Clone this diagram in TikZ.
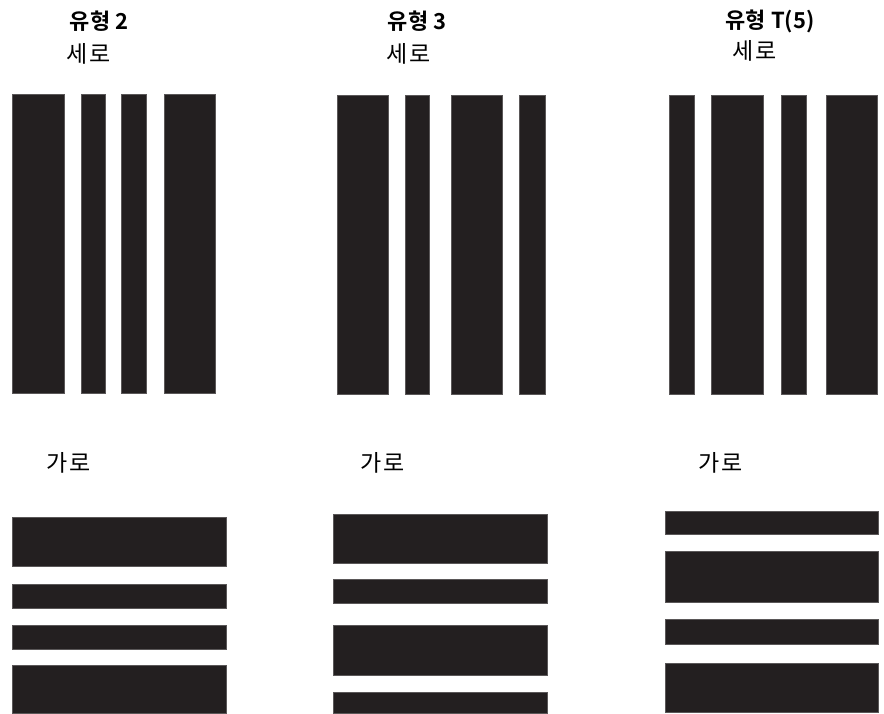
\documentclass[tikz,border=0pt]{standalone}
\usepackage{fontspec}
\setmainfont{Noto Sans CJK KR}[BoldFont={Noto Sans CJK KR Bold}]
\newfontfamily\krwide{Noto Sans CJK KR}[LetterSpace=8]
\usepackage{tikz}

\definecolor{barcol}{RGB}{35,31,32}

\begin{document}
\begin{tikzpicture}[x=1pt, y=-1pt,
  bar/.style={fill=barcol, draw=barcol!75, line width=0.6pt},
  title/.style={font=\bfseries\fontsize{22}{26}\selectfont, inner sep=0pt},
  dirtext/.style={font=\krwide\fontsize{23}{27}\selectfont, inner sep=0pt}]
  \useasboundingbox (0,0) rectangle (884,713);
  % titles
  \node[title] (t2) at (99,21) {유형 2};
  \node[title] (t3) at (417,21) {유형 3};
  \node[title] (t5) at (770,21) {유형 T(5)};
  \node[dirtext] (v2) at (89,54) {세로};
  \node[dirtext] (v3) at (409,54) {세로};
  \node[dirtext] (v5) at (755,51) {세로};
  \node[dirtext] (h2) at (69,463) {가로};
  \node[dirtext] (h3) at (383,463) {가로};
  \node[dirtext] (h5) at (721,463) {가로};
  % vertical bars
  \foreach \a/\b in {12/64, 81/105, 121/146, 164/215}
    \draw[bar] (\a,94) rectangle (\b,393);
  \foreach \a/\b in {337/388, 405/429, 451/502, 519/545}
    \draw[bar] (\a,95) rectangle (\b,394);
  \foreach \a/\b in {669/694, 711/763, 781/806, 826/877}
    \draw[bar] (\a,95) rectangle (\b,394);
  % horizontal bars
  \foreach \a/\b in {517/566, 584/608, 625/649, 665/713}
    \draw[bar] (12,\a) rectangle (226,\b);
  \foreach \a/\b in {514/563, 579/603, 625/675, 692/713}
    \draw[bar] (333,\a) rectangle (547,\b);
  \foreach \a/\b in {511/534, 551/602, 619/644, 663/712}
    \draw[bar] (665,\a) rectangle (878,\b);
\end{tikzpicture}
\end{document}
